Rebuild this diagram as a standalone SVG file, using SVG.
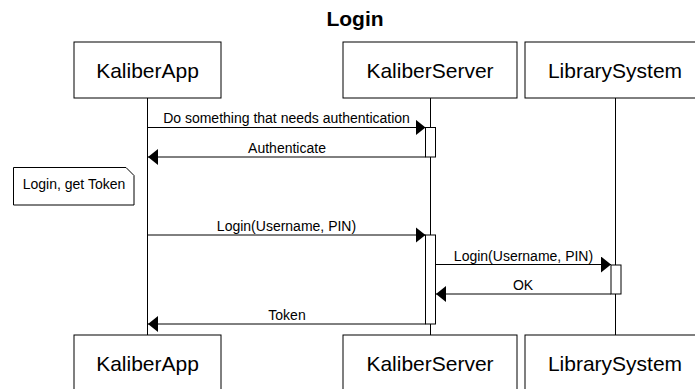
<svg xmlns="http://www.w3.org/2000/svg" width="695" height="389" viewBox="0 0 695 389">
  <style>
    text { font-family: "Liberation Sans", Arial, sans-serif; fill: #000; }
    .title { font-size: 21px; font-weight: bold; text-anchor: middle; }
    .actor rect { fill: #fff; stroke: #000; stroke-width: 1; }
    .actor text { font-size: 21px; text-anchor: middle; }
    .life { stroke: #000; stroke-width: 1; fill: none; }
    .act { fill: #fff; stroke: #000; stroke-width: 1; }
    .msg line { stroke: #000; stroke-width: 1; }
    .msg text { font-size: 14px; text-anchor: middle; }
    .note path { fill: #fff; stroke: #000; stroke-width: 1; }
    .note text { font-size: 14px; text-anchor: middle; }
  </style>
  <defs>
    <marker id="head" viewBox="0 0 10 16" refX="10" refY="8" markerWidth="10" markerHeight="16" markerUnits="userSpaceOnUse" orient="auto">
      <path d="M0,0 L10,8 L0,16 Z" fill="#000"/>
    </marker>
  </defs>

  <text class="title" x="355" y="26">Login</text>

  <!-- lifelines -->
  <g id="lifelines">
    <line class="life" x1="147.5" y1="98" x2="147.5" y2="335"/>
    <line class="life" x1="430.5" y1="98" x2="430.5" y2="335"/>
    <line class="life" x1="615.5" y1="98" x2="615.5" y2="335"/>
  </g>

  <!-- participants, top and bottom -->
  <g id="KaliberApp" class="actor">
    <rect x="74" y="42" width="147" height="56"/>
    <text x="147.5" y="78">KaliberApp</text>
    <rect x="74" y="335" width="147" height="56"/>
    <text x="147.5" y="371">KaliberApp</text>
  </g>
  <g id="KaliberServer" class="actor">
    <rect x="343" y="42" width="174" height="56"/>
    <text x="430" y="78">KaliberServer</text>
    <rect x="343" y="335" width="174" height="56"/>
    <text x="430" y="371">KaliberServer</text>
  </g>
  <g id="LibrarySystem" class="actor">
    <rect x="525" y="42" width="182" height="56"/>
    <text x="615" y="78">LibrarySystem</text>
    <rect x="525" y="335" width="182" height="56"/>
    <text x="615" y="371">LibrarySystem</text>
  </g>

  <!-- activation bars -->
  <g id="activations">
    <rect class="act" x="425.5" y="127.5" width="10" height="29.5"/>
    <rect class="act" x="425.5" y="235" width="10" height="89"/>
    <rect class="act" x="611" y="265" width="10" height="29"/>
  </g>

  <!-- note -->
  <g id="note" class="note">
    <path d="M13.5,167.5 H126 L134,175.5 V205 H13.5 Z"/>
    <text x="74" y="189">Login, get Token</text>
  </g>

  <!-- messages -->
  <g id="connectors" class="msg">
    <line x1="147.5" y1="127.5" x2="425.5" y2="127.5" marker-end="url(#head)"/>
    <text x="286.5" y="123">Do something that needs authentication</text>

    <line x1="425.5" y1="157" x2="148" y2="157" marker-end="url(#head)"/>
    <text x="287" y="153">Authenticate</text>

    <line x1="147.5" y1="235" x2="425.5" y2="235" marker-end="url(#head)"/>
    <text x="286.5" y="231">Login(Username, PIN)</text>

    <line x1="435.5" y1="264.5" x2="611" y2="264.5" marker-end="url(#head)"/>
    <text x="523.5" y="261">Login(Username, PIN)</text>

    <line x1="611" y1="294" x2="436" y2="294" marker-end="url(#head)"/>
    <text x="523" y="290">OK</text>

    <line x1="425.5" y1="324" x2="148" y2="324" marker-end="url(#head)"/>
    <text x="287" y="320">Token</text>
  </g>
</svg>
